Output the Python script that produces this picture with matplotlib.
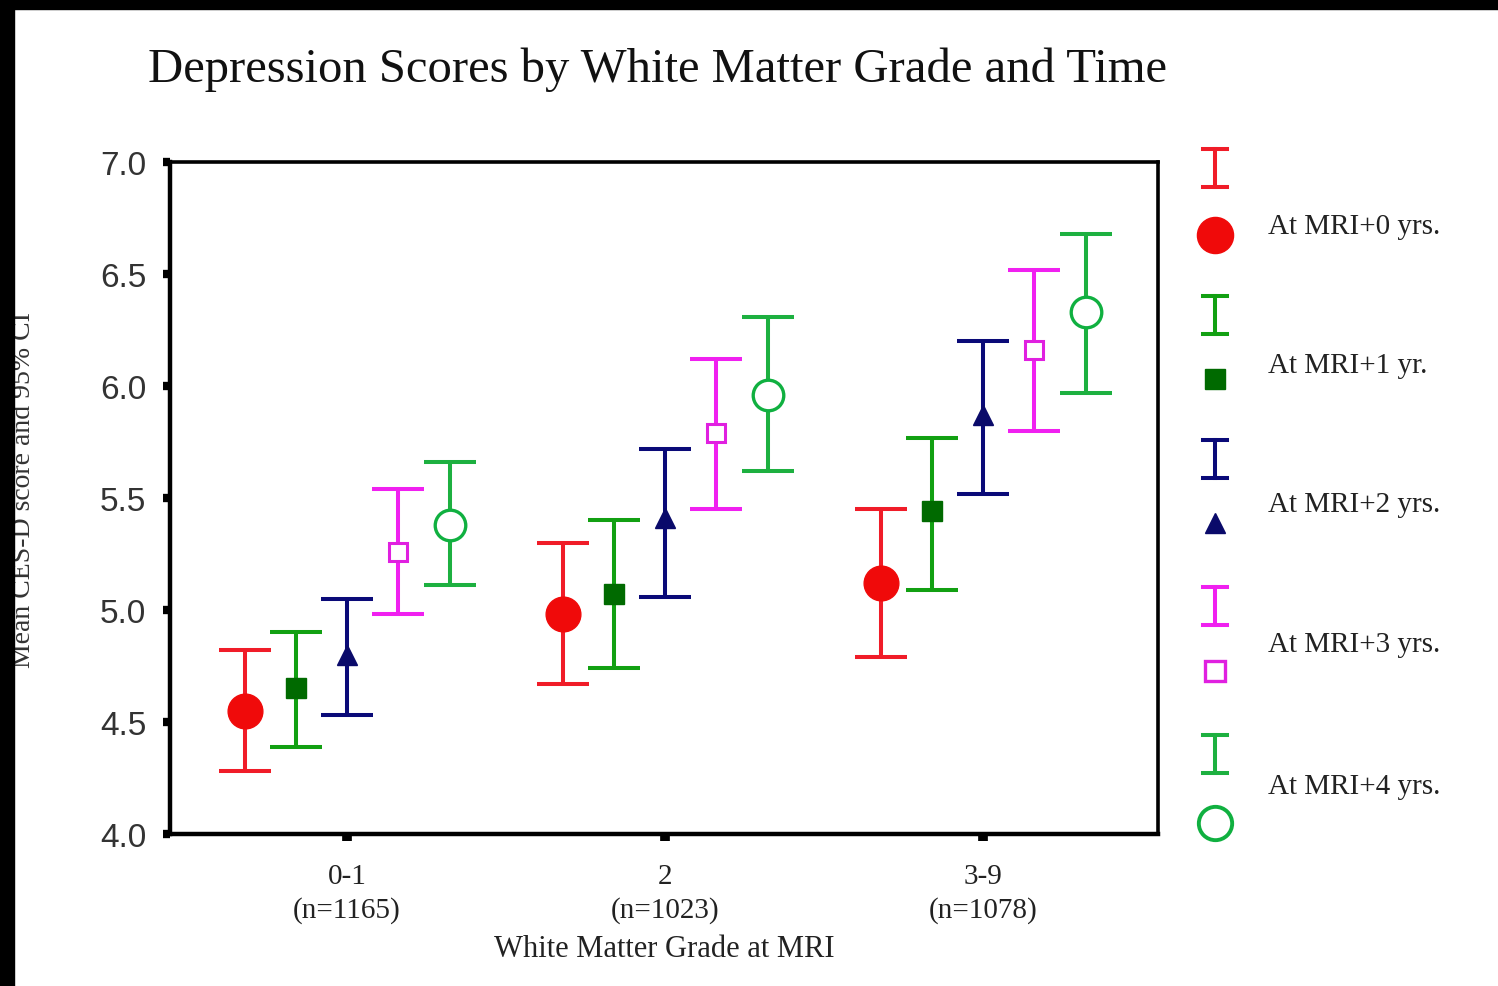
import matplotlib
matplotlib.use("Agg")
import matplotlib.pyplot as plt
from matplotlib.patches import Rectangle
import numpy as np

# group labels on the x axis
groups = ["0-1\n(n=1165)", "2\n(n=1023)", "3-9\n(n=1078)"]
series_labels = ["At MRI+0 yrs.", "At MRI+1 yr.", "At MRI+2 yrs.",
                 "At MRI+3 yrs.", "At MRI+4 yrs."]

# mean CES-D score per grade group, one list per follow-up year
mean_y0 = [4.55, 4.98, 5.12]
mean_y1 = [4.65, 5.07, 5.44]
mean_y2 = [4.80, 5.41, 5.87]
mean_y3 = [5.26, 5.79, 6.16]
mean_y4 = [5.38, 5.96, 6.33]

# 95% CI bounds
low_y0 = [4.28, 4.67, 4.79]
high_y0 = [4.82, 5.30, 5.45]
low_y1 = [4.39, 4.74, 5.09]
high_y1 = [4.90, 5.40, 5.77]
low_y2 = [4.53, 5.06, 5.52]
high_y2 = [5.05, 5.72, 6.20]
low_y3 = [4.98, 5.45, 5.80]
high_y3 = [5.54, 6.12, 6.52]
low_y4 = [5.11, 5.62, 5.97]
high_y4 = [5.66, 6.31, 6.68]

means = [mean_y0, mean_y1, mean_y2, mean_y3, mean_y4]
lows = [low_y0, low_y1, low_y2, low_y3, low_y4]
highs = [high_y0, high_y1, high_y2, high_y3, high_y4]

offsets = [-0.32, -0.16, 0.0, 0.16, 0.325]
bar_colors = ["#f01c28", "#12a012", "#0a0a78", "#f020f0", "#1db040"]
styles = [
    dict(marker="o", markersize=25, mfc="#f00a0a", mec="#f00a0a"),
    dict(marker="s", markersize=15, mfc="#006a00", mec="#006a00"),
    dict(marker="^", markersize=15, mfc="#0a0a6a", mec="#0a0a6a"),
    dict(marker="s", markersize=13, mfc="white", mec="#e020e0", mew=2.2),
    dict(marker="o", markersize=22, mfc="white", mec="#10b040", mew=2.4),
]

plt.rcParams["font.family"] = ["Liberation Serif", "DejaVu Serif"]

fig = plt.figure(figsize=(14.98, 9.87), dpi=100)
W, H = 1498, 987

# black scan border along the top and left edge
fig.patches.append(Rectangle((0, 1 - 10 / H), 1, 10 / H, transform=fig.transFigure,
                             color="black", zorder=10))
fig.patches.append(Rectangle((0, 0), 14 / W, 1, transform=fig.transFigure,
                             color="black", zorder=10))

ax = fig.add_axes([170 / W, 1 - 835 / H, (1158 - 170) / W, (835 - 163) / H])
x = np.arange(1, len(groups) + 1)
for m, lo, hi, off, col, st in zip(means, lows, highs, offsets, bar_colors, styles):
    m = np.array(m)
    yerr = [m - np.array(lo), np.array(hi) - m]
    ax.errorbar(x + off, m, yerr=yerr, fmt="none", ecolor=col, elinewidth=2.9,
                capsize=19, capthick=2.9, zorder=2)
    ax.plot(x + off, m, linestyle="none", zorder=3, **st)

ax.set_xlim(0.443, 3.55)
ax.set_ylim(4.0, 7.0)
ax.set_yticks(np.arange(4.0, 7.01, 0.5))
ax.set_yticklabels([f"{v:.1f}" for v in np.arange(4.0, 7.01, 0.5)],
                   family="Liberation Sans", fontsize=24, color="#333333")
ax.set_xticks(x)
ax.set_xticklabels(groups, fontsize=21, color="#222222", linespacing=1.35)
ax.tick_params(axis="y", length=5, width=6, pad=12, color="black")
ax.tick_params(axis="x", length=5, width=7, pad=16, color="black")
for side in ["left", "bottom"]:
    ax.spines[side].set_linewidth(3.2)
for side in ["top", "right"]:
    ax.spines[side].set_linewidth(2.6)

ax.set_xlabel("White Matter Grade at MRI", fontsize=22, color="#222222", labelpad=8)
fig.text(24 / W, 1 - 490 / H, "Mean CES-D score and 95% CI", rotation=90,
         ha="center", va="center", fontsize=20, color="#333333")
fig.text(658 / W, 1 - 70 / H, "Depression Scores by White Matter Grade and Time",
         ha="center", va="center", fontsize=35, color="#111111")

# legend drawn in pixel coordinates on the right
lg = fig.add_axes([0, 0, 1, 1], facecolor="none")
lg.set_xlim(0, W)
lg.set_ylim(H, 0)
lg.axis("off")
icon_x = 1215
bar_top = [150, 297, 441, 588, 736]
marker_y = [236, 380, 524, 672, 824]
label_y = [227, 366, 505, 645, 787]
legend_styles = [
    dict(marker="o", markersize=26, mfc="#f00a0a", mec="#f00a0a"),
    dict(marker="s", markersize=15, mfc="#006a00", mec="#006a00"),
    dict(marker="^", markersize=15, mfc="#0a0a6a", mec="#0a0a6a"),
    dict(marker="s", markersize=14, mfc="white", mec="#e020e0", mew=2.4),
    dict(marker="o", markersize=24, mfc="white", mec="#10b040", mew=2.8),
]
for bt, my, ly, col, st, lab in zip(bar_top, marker_y, label_y, bar_colors,
                                   legend_styles, series_labels):
    lg.plot([icon_x, icon_x], [bt, bt + 38], color=col, lw=2.9)
    lg.plot([icon_x - 12, icon_x + 12], [bt, bt], color=col, lw=2.9)
    lg.plot([icon_x - 12, icon_x + 12], [bt + 38, bt + 38], color=col, lw=2.9)
    lg.plot([icon_x], [my], linestyle="none", **st)
    lg.text(1268, ly, lab, ha="left", va="center", fontsize=21, color="#222222")

fig.savefig("out.png", dpi=100, facecolor="white")
